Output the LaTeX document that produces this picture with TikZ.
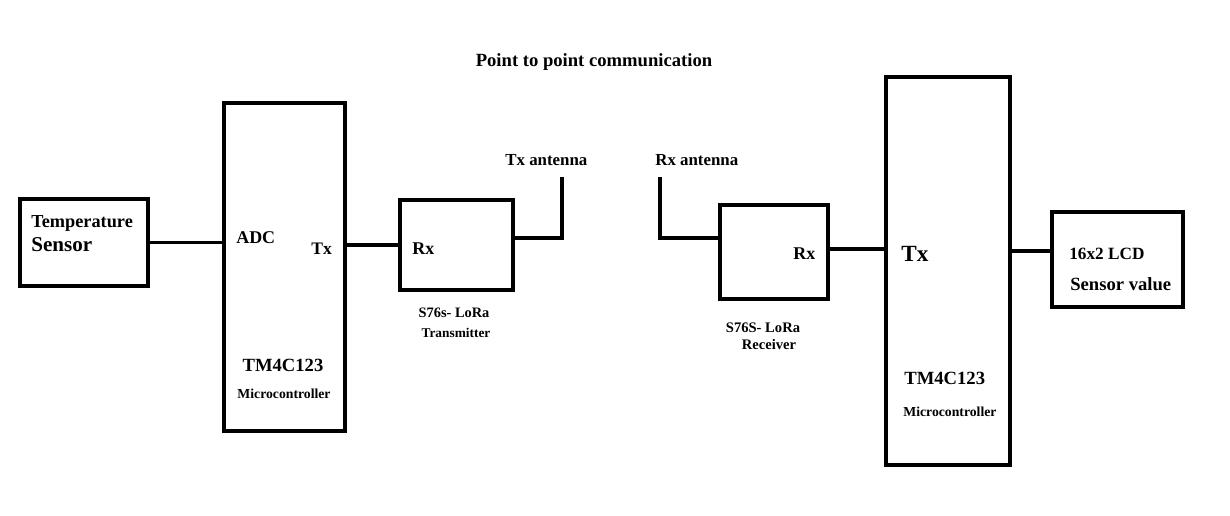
\documentclass[tikz,border=0pt]{standalone}
\usepackage{fontspec}
\setmainfont{Liberation Serif}
\tikzset{every picture/.style={font issue=\bfseries},
         font issue/.style={execute at begin picture={#1\selectfont}},
         block/.style={draw, rectangle, line width=2.5pt, inner sep=0pt},
         wire/.style={line width=2.2pt},
         lbl/.style={anchor=base west, inner sep=0pt, font=\fontsize{#1}{#1}\selectfont},
         mid/.style={anchor=base, inner sep=0pt, font=\fontsize{#1}{#1}\selectfont}
        }
\begin{document}
\begin{tikzpicture}[x=0.02cm, y=-0.02cm]
        \fill [white] (0,0) rectangle (1230,515);
        \useasboundingbox (0,0) rectangle (1230,515);
        \node [mid=10.6] (title) at (594,66) {Point to point communication};
        \node [block, minimum width=2.56cm, minimum height=1.74cm] (sensor) at (84,242.5) {};
        \node [block, minimum width=2.42cm, minimum height=6.56cm] (mcuA) at (284.5,267) {};
        \node [block, minimum width=2.26cm, minimum height=1.8cm] (loraT) at (456.5,245) {};
        \node [block, minimum width=2.16cm, minimum height=1.88cm] (loraR) at (774,252) {};
        \node [block, minimum width=2.48cm, minimum height=7.76cm] (mcuB) at (948,271) {};
        \node [block, minimum width=2.62cm, minimum height=1.9cm] (lcd) at (1117.5,259.5) {};
        \node [lbl=10.4] (sensorA) at (31,227) {Temperature};
        \node [lbl=12] (sensorB) at (31,251) {Sensor};
        \node [lbl=10.2] (adc) at (236,243) {ADC};
        \node [lbl=10] (mcuAtx) at (311,254) {Tx};
        \node [mid=10.6] (mcuAname) at (283,371) {TM4C123};
        \node [mid=7.8] (mcuAtype) at (284,398) {Microcontroller};
        \node [lbl=10.2] (loraTrx) at (412,254) {Rx};
        \node [mid=8.2] (loraTname) at (454,317) {S76s- LoRa};
        \node [mid=7.6] (loraTtype) at (456,337) {Transmitter};
        \node [lbl=9.6] (txantlbl) at (505,165) {Tx antenna};
        \node [lbl=9.6] (rxantlbl) at (655,165) {Rx antenna};
        \node [lbl=10.2] (loraRrx) at (793,259) {Rx};
        \node [mid=8.3] (loraRname) at (763,332) {S76S- LoRa};
        \node [mid=8.3] (loraRtype) at (769,349) {Receiver};
        \node [lbl=13.2] (mcuBtx) at (901,261) {Tx};
        \node [lbl=10.6] (mcuBname) at (904,384) {TM4C123};
        \node [lbl=7.8] (mcuBtype) at (903,416) {Microcontroller};
        \node [lbl=9.8] (lcdA) at (1069,259) {16x2 LCD};
        \node [lbl=10.6] (lcdB) at (1070,290) {Sensor value};
        \coordinate (txfoot) at (562,238);
        \coordinate (txtip) at (562,177);
        \coordinate (rxtip) at (660,177);
        \coordinate (rxfoot) at (660,238);
        \draw [wire] (sensor.east) -- (sensor.east -| mcuA.west);
        \draw [wire] (loraT.west -| mcuA.east) -- (loraT.west);
        \draw [wire] (txfoot -| loraT.east) -- (txfoot) -- (txtip);
        \draw [wire] (rxtip) -- (rxfoot) -- (rxfoot -| loraR.west);
        \draw [wire] ([yshift=0.06cm]loraR.east) -- ([yshift=0.06cm]loraR.east -| mcuB.west);
        \draw [wire] ([yshift=0.17cm]lcd.west -| mcuB.east) -- ([yshift=0.17cm]lcd.west);
      \end{tikzpicture}
\end{document}
